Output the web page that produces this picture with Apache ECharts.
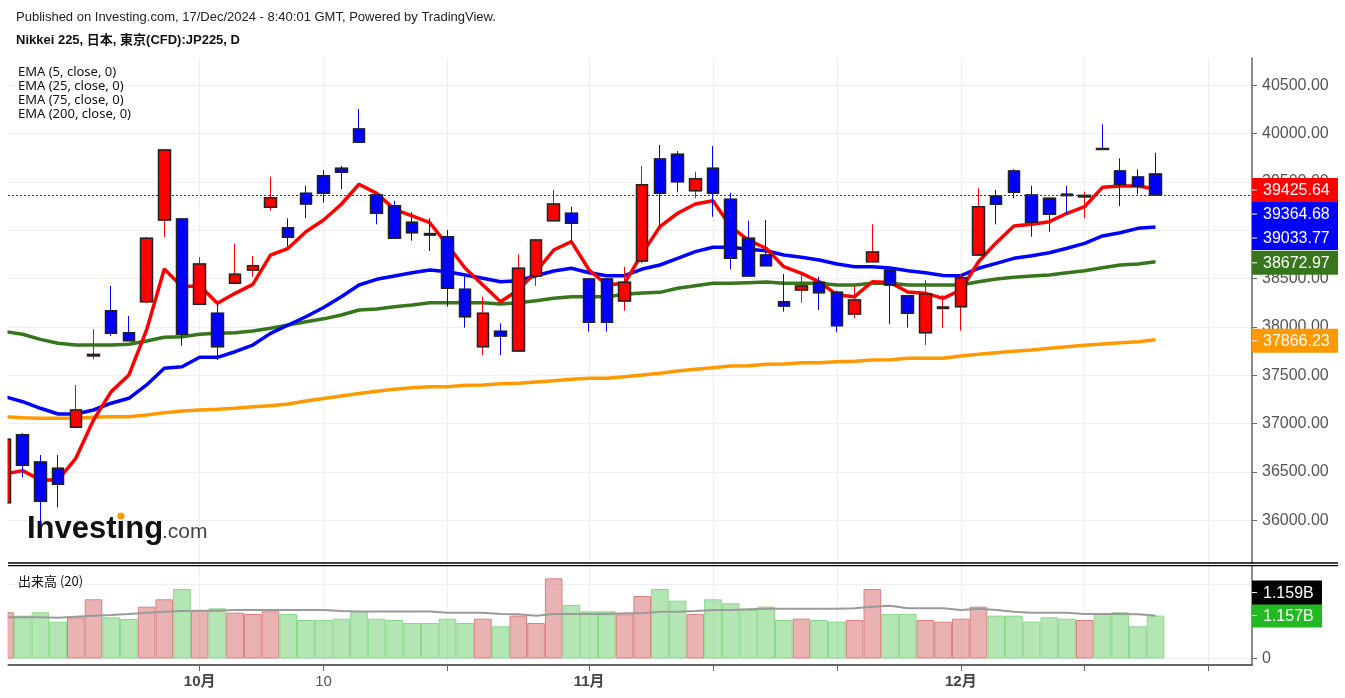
<!DOCTYPE html>
<html><head><meta charset="utf-8">
<script src="https://cdn.jsdelivr.net/npm/echarts@6/dist/echarts.min.js"></script>
<style>html,body{margin:0;padding:0;background:#fff}#c{width:1345px;height:698px}</style>
</head><body><div id="c"></div>
<script>
// ---- data (daily candles, index 0 = leftmost, partly clipped) ----
const opens  = [36181,36885,36602,36537,36961,37700,38167,37940,38260,39105,39116,38233,38140,38451,38588,39237,39026,39381,39564,39640,
                40047,39364,39253,39082,38965,38933,38389,37795,37954,37750,38526,39098,39175,38495,38495,38268,38681,39736,39785,39408,
                39640,39319,38916,38743,38260,38381,38461,38358,38133,38674,38588,38322,37940,38190,38209,38743,39354,39612,39364,39330,
                39372,39345,39845,39612,39550,39581];
const closes = [36837,36568,36196,36372,37140,37715,37933,37857,38916,39829,37923,38650,37795,38544,38633,39336,38926,39271,39381,39600,
                39909,39175,38916,38974,38950,38399,38105,38140,37906,38606,38898,39271,39071,38047,38047,38461,39470,39381,39501,39533,
                39381,38709,38526,38633,38216,38423,38353,38012,38278,38774,38433,38140,38340,38205,38509,39243,39268,39392,39082,39164,
                39358,39360,39835,39475,39457,39364.68];
const lows   = [36150,36444,35968,36134,36955,37665,37906,37857,38244,38926,37805,38228,37657,38445,38519,39202,38829,39123,39284,39423,
                39905,39061,38910,38891,38785,38209,37991,37709,37709,37745,38423,39095,38881,37950,37950,38167,38657,39036,39392,39330,
                39139,38595,38520,38628,38157,38250,38174,37944,38089,38670,38027,37991,37812,37990,37960,38740,39061,39330,38933,38985,
                39167,39123,39830,39250,39371,39360];
const highs  = [36900,36900,36675,36675,37399,37975,38423,38112,38930,39840,39125,38720,38233,38857,38733,39553,39123,39460,39622,39664,
                40253,39370,39305,39185,39123,39002,38519,38312,38037,38751,38905,39416,39243,38505,38505,38622,39664,39881,39819,39605,
                39871,39388,39098,39105,38547,38536,38519,38375,38423,39061,38595,38330,38485,38330,38540,39433,39416,39630,39460,39335,
                39460,39398,40095,39743,39630,39801];
const ema5   = [36478,36513,36416,36416,36640,37037,37330,37502,37968,38599,38416,38426,38244,38347,38440,38743,38813,38984,39105,39268,
                39475,39381,39216,39147,39077,38847,38606,38433,38260,38381,38571,38795,38881,38588,38433,38450,38760,39036,39175,39271,
                39305,39036,38898,38813,38622,38554,38467,38330,38312,38467,38460,38360,38347,38295,38381,38674,38871,39043,39061,39088,
                39175,39243,39443,39457,39457,39425.64];
const ema25  = [37278,37226,37158,37099,37099,37140,37210,37261,37399,37571,37588,37685,37685,37743,37812,37933,38019,38105,38200,38312,
                38433,38492,38526,38560,38588,38571,38536,38502,38467,38478,38529,38578,38606,38560,38529,38529,38598,38640,38709,38778,
                38823,38823,38802,38788,38743,38719,38692,38650,38622,38622,38610,38580,38560,38532,38529,38606,38657,38709,38736,38767,
                38813,38864,38940,38974,39019,39033.77];
const ema75  = [37950,37923,37871,37830,37812,37812,37812,37820,37854,37892,37898,37923,37933,37940,37957,37985,38019,38053,38083,38123,
                38174,38185,38209,38226,38250,38250,38250,38250,38236,38250,38271,38295,38312,38312,38312,38337,38350,38357,38399,38426,
                38450,38450,38457,38464,38450,38450,38450,38433,38433,38450,38450,38433,38433,38433,38433,38467,38495,38512,38526,38536,
                38560,38581,38612,38640,38650,38672.97];
const ema200 = [37071,37060,37054,37054,37054,37064,37071,37071,37088,37112,37130,37140,37147,37158,37174,37185,37202,37233,37260,37285,
                37310,37335,37354,37371,37381,37381,37396,37399,37412,37416,37430,37443,37458,37468,37468,37485,37502,37520,37543,37561,
                37578,37595,37598,37613,37616,37630,37630,37640,37644,37657,37660,37675,37675,37675,37699,37716,37733,37747,37761,37778,
                37795,37809,37823,37836,37847,37866.23];
// volume in billions
const volumes = [1.245,1.154,1.245,0.992,1.11,1.595,1.11,1.065,1.397,1.595,1.873,1.307,1.353,1.235,1.2,1.272,1.2,1.038,1.038,1.073,
                 1.272,1.073,1.038,0.957,0.957,1.073,0.957,1.073,0.868,1.154,0.957,2.16,1.442,1.272,1.272,1.191,1.685,1.873,1.559,1.2,
                 1.595,1.487,1.307,1.397,1.038,1.073,1.038,0.992,1.038,1.873,1.2,1.2,1.038,0.992,1.073,1.397,1.154,1.154,0.992,1.11,
                 1.073,1.038,1.2,1.245,0.868,1.157];
const volMA20 = [1.11,1.11,1.11,1.10,1.127,1.154,1.172,1.2,1.235,1.262,1.28,1.29,1.29,1.307,1.307,1.307,1.307,1.307,1.307,1.28,
                 1.27,1.27,1.27,1.27,1.27,1.235,1.235,1.235,1.2,1.19,1.154,1.2,1.2,1.2,1.2,1.218,1.218,1.262,1.262,1.28,
                 1.307,1.307,1.325,1.343,1.343,1.343,1.343,1.343,1.352,1.397,1.424,1.352,1.352,1.352,1.307,1.343,1.307,1.262,1.235,1.235,
                 1.235,1.2,1.2,1.2,1.19,1.159];
const priceTicks = [36000,36500,37000,37500,38000,38500,39000,39500,40000,40500];
const volTicks = [0, 2];
const volLabelTicks = [0];
const xTickIdx = [11,18,25,33,40,47,54,61,68];
const xLabelIdx = [11,18,33,54];
const xLabelText = ['10月','10','11月','12月'];
const xLabelBold = [true,false,true,true];
const emaNames = ['EMA (5, close, 0)','EMA (25, close, 0)','EMA (75, close, 0)','EMA (200, close, 0)'];

// ---- chart ----
const chart = echarts.init(document.getElementById('c'), null, {renderer:'canvas'});
const N = closes.length;
const FONT = '"Liberation Sans", Arial, sans-serif';
const grid = '#eeeeee';
const toXY = arr => arr.map((v,i)=>[i,v]);
const candleFull = opens.map((o,i)=>[i,o,closes[i],lows[i],highs[i]]);
const candleBody = opens.map((o,i)=>[i,o,closes[i],Math.min(o,closes[i]),Math.max(o,closes[i])]);
const upVol = {color:'rgba(214,110,110,0.52)', borderColor:'#d98080', borderWidth:1};
const dnVol = {color:'rgba(110,208,110,0.52)', borderColor:'#88d888', borderWidth:1};
const volData = volumes.map((v,i)=>({value:[i,v], itemStyle: closes[i]>=opens[i]?upVol:dnVol}));

const XMIN = 0.17, XMAX = 70.45;
const lineS = (data,color,w,z)=>({type:'line', xAxisIndex:0, yAxisIndex:0, data:toXY(data), showSymbol:false, symbol:'none',
  lineStyle:{color, width:w}, itemStyle:{color}, z, silent:true});

const option = {
  animation:false,
  backgroundColor:'#fff',
  grid:[
    {left:8, right:93, top:58, height:505, outerBoundsMode:'none', containLabel:false},
    {left:8, right:93, top:566, height:99, outerBoundsMode:'none', containLabel:false}
  ],
  xAxis:[
    {type:'value', gridIndex:0, min:XMIN, max:XMAX, axisLine:{show:false, onZero:false},
     axisTick:{show:false, customValues:xTickIdx}, axisLabel:{show:false},
     splitLine:{show:true, lineStyle:{color:grid, width:1}}},
    {type:'value', gridIndex:1, min:XMIN, max:XMAX, axisLine:{show:true, onZero:false, lineStyle:{color:'#666', width:2}},
     axisTick:{show:true, customValues:xTickIdx, length:6, lineStyle:{color:'#666', width:1}},
     axisLabel:{show:true, customValues:xLabelIdx, margin:9,
       formatter:v=>{const k=xLabelIdx.indexOf(Math.round(v)); if(k<0) return ''; return (xLabelBold[k]?'{b|':'{n|')+xLabelText[k]+'}';},
       rich:{b:{fontSize:15, fontWeight:'bold', color:'#444', fontFamily:FONT+',"Noto Sans CJK JP"'},
             n:{fontSize:15, color:'#555', fontFamily:FONT}}},
     splitLine:{show:true, lineStyle:{color:grid, width:1}}}
  ],
  yAxis:[
    {type:'value', gridIndex:0, position:'right', min:35557.5, max:40781, scale:true,
     axisLine:{show:true, onZero:false, lineStyle:{color:'#666', width:1.5}},
     axisTick:{show:true, length:5, customValues:priceTicks, lineStyle:{color:'#666'}},
     axisLabel:{show:true, customValues:priceTicks, formatter:v=>Number(v).toFixed(2), color:'#555', fontSize:16, fontFamily:FONT, margin:10, padding:[6,0,0,0]},
     splitLine:{show:true, lineStyle:{color:grid, width:1}}},
    {type:'value', gridIndex:1, position:'right', min:-0.175, max:2.493,
     axisLine:{show:true, onZero:false, lineStyle:{color:'#666', width:1.5}},
     axisTick:{show:true, length:5, customValues:volTicks, lineStyle:{color:'#666'}},
     axisLabel:{show:true, customValues:volLabelTicks, formatter:()=> '0', color:'#555', fontSize:16, fontFamily:FONT, margin:10},
     splitLine:{show:true, lineStyle:{color:grid, width:1}}}
  ],
  series:[
    lineS(ema200,'#ff9900',3.5,2),
    lineS(ema75,'#38761d',3.5,2),
    lineS(ema25,'#0000ff',3.5,2),
    lineS(ema5,'#ff0000',3.5,2),
    {type:'candlestick', name:'wick', xAxisIndex:0, yAxisIndex:0, data:candleFull, barWidth:12, z:3, silent:true,
     itemStyle:{color:'#ff0000', color0:'#0000ff', borderColor:'#ff0000', borderColor0:'#0000ff', borderWidth:1},
     markLine:{symbol:'none', silent:true, label:{show:false}, lineStyle:{color:'#1a1aff', type:[2,2], width:1, opacity:1},
       emphasis:{disabled:true}, data:[{yAxis:closes[N-1]}]}},
    {type:'candlestick', name:'body', xAxisIndex:0, yAxisIndex:0, data:candleBody, barWidth:12, z:4, silent:true,
     itemStyle:{color:'#ff0000', color0:'#0000ff', borderColor:'#222', borderColor0:'#222', borderWidth:1.5}},
    {type:'bar', xAxisIndex:1, yAxisIndex:1, data:volData, barWidth:17.6, z:2, silent:true},
    {type:'line', xAxisIndex:1, yAxisIndex:1, data:toXY(volMA20), showSymbol:false, symbol:'none',
     lineStyle:{color:'#9a9a9a', width:2}, z:3, silent:true}
  ]
};
chart.setOption(option);

// ---- annotations: header, legend, logo, last-value tags ----
const g = [];
// blank strip left of the plot (the first candle is cut at the plot's left edge)
g.push({type:'rect', shape:{x:0, y:50, width:7.5, height:620}, z:40, style:{fill:'#fff'}});
g.push({type:'text', x:16, y:17, style:{text:'Published on Investing.com, 17/Dec/2024 - 8:40:01 GMT, Powered by TradingView.', font:'13px '+FONT, fill:'#222', verticalAlign:'middle'}});
g.push({type:'text', x:16, y:40, style:{text:'Nikkei 225, 日本, 東京(CFD):JP225, D', font:'bold 13px '+FONT+', "Noto Sans CJK JP"', fill:'#111', verticalAlign:'middle'}});
emaNames.forEach((t,k)=>g.push({type:'text', x:18, y:72+k*14, z:10, style:{text:t, font:'13px "Noto Sans", sans-serif', fill:'#111', verticalAlign:'middle'}}));
g.push({type:'text', x:18, y:581, z:10, style:{text:'出来高 (20)', font:'13px "Noto Sans CJK JP", "Noto Sans", sans-serif', fill:'#111', verticalAlign:'middle'}});
g.push({type:'text', x:27, y:529, z:1, style:{text:'Investing', font:'bold 31px '+FONT, fill:'#111', verticalAlign:'middle'}});
g.push({type:'text', x:162, y:532, z:1, style:{text:'.com', font:'21px '+FONT, fill:'#444', verticalAlign:'middle'}});
g.push({type:'circle', shape:{cx:121, cy:516, r:3.6}, z:2, style:{fill:'#ff9900'}});

// separator double line between panes
[563, 565.6].forEach(y=>g.push({type:'line', shape:{x1:8, y1:y, x2:1338, y2:y}, z:41, style:{stroke:'#000', lineWidth:1.3}}));

function tag(cy, text, bg, w){
  g.push({type:'rect', shape:{x:1252, y:cy-12, width:w, height:24}, z:42, style:{fill:bg}});
  g.push({type:'line', shape:{x1:1252, y1:cy, x2:1257, y2:cy}, z:43, style:{stroke:'#fff', lineWidth:1}});
  g.push({type:'text', x:1263, y:cy+1, z:43, style:{text:text, font:'16px '+FONT, fill:'#fff', verticalAlign:'middle'}});
}
const priceTags = [
  {v:ema5[N-1], bg:'#ff0000'},
  {v:closes[N-1], bg:'#0000ff'},
  {v:ema25[N-1], bg:'#0000ff'},
  {v:ema75[N-1], bg:'#38761d'},
  {v:ema200[N-1], bg:'#ff9900'}
].map(t=>({...t, y:chart.convertToPixel({yAxisIndex:0}, t.v)+1})).sort((a,b)=>a.y-b.y);
let prev = -1e9;
priceTags.forEach(t=>{ const y=Math.max(t.y, prev+24); prev=y; tag(y, t.v.toFixed(2), t.bg, 86); });

const yVol = chart.convertToPixel({yAxisIndex:1}, volumes[N-1]);
let yMA = chart.convertToPixel({yAxisIndex:1}, volMA20[N-1]);
if (Math.abs(yMA-yVol) < 23) yMA = yVol - 23;
tag(yVol, volumes[N-1].toFixed(3)+'B', '#22b922', 70);
tag(yMA, volMA20[N-1].toFixed(3)+'B', '#000000', 70);

chart.setOption({graphic:g});
</script>
</body></html>
